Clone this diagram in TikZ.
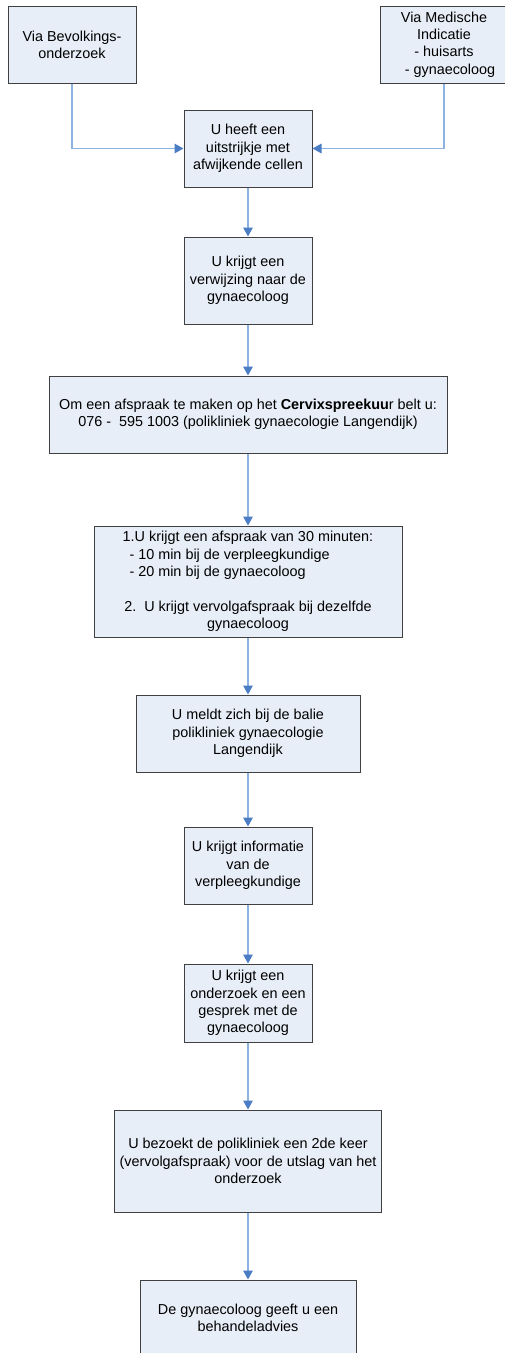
\documentclass[tikz,border=0pt]{standalone}
\usepackage{fontspec}
\setmainfont{Liberation Sans}
\usetikzlibrary{arrows.meta}
\definecolor{boxfill}{RGB}{232,238,247}
\definecolor{boxline}{RGB}{64,64,64}
\definecolor{lineblue}{RGB}{140,178,225}
\definecolor{headblue}{RGB}{74,125,196}
\tikzset{
  flowbox/.style={draw=boxline, fill=boxfill, line width=1pt, inner sep=0pt,
    align=center, font=\fontsize{14.4}{17.3}\selectfont, text=black},
  flowarrow/.style={draw=lineblue, line width=1.6pt,
    -{Triangle[length=9pt,width=9.5pt,color=headblue]}}
}
\begin{document}
\begin{tikzpicture}[x=1pt,y=-1pt]
\useasboundingbox (0,0) rectangle (505,1353);
\clip (0,0) rectangle (505,1353);
\fill[white] (0,0) rectangle (505,1353);

\node[flowbox, minimum width=128pt, minimum height=77pt] (b1) at (72,44.5)
  {Via Bevolkings-\\onderzoek};
\node[flowbox, minimum width=128pt, minimum height=77pt] (b2) at (444,44.5)
  {Via Medische\\Indicatie\\- huisarts\\\hspace*{12pt}- gynaecoloog};
\node[flowbox, minimum width=128pt, minimum height=77pt] (b3) at (248,148.5)
  {U heeft een\\uitstrijkje met\\afwijkende cellen};
\node[flowbox, minimum width=128pt, minimum height=87pt] (b4) at (248,280.5)
  {U krijgt een\\verwijzing naar de\\gynaecoloog};
\node[flowbox, minimum width=398pt, minimum height=77pt] (b5) at (248,414.5)
  {Om een afspraak te maken op het \textbf{Cervixspreekuu}r belt u:\\076 -\ \ 595 1003 (polikliniek gynaecologie Langendijk)};
\node[flowbox, minimum width=308pt, minimum height=111pt] (b6) at (248,581.5)
  {1.U krijgt een afspraak van 30 minuten:\\
   \makebox[251pt][l]{\hspace*{7pt}- 10 min bij de verpleegkundige}\\
   \makebox[251pt][l]{\hspace*{7pt}- 20 min bij de gynaecoloog}\\[17.3pt]
   2.\ \ U krijgt vervolgafspraak bij dezelfde\\gynaecoloog};
\node[flowbox, minimum width=224pt, minimum height=77pt] (b7) at (248,733.5)
  {U meldt zich bij de balie\\polikliniek gynaecologie\\Langendijk};
\node[flowbox, minimum width=128pt, minimum height=77pt] (b8) at (248,865.5)
  {U krijgt informatie\\van de\\verpleegkundige};
\node[flowbox, minimum width=128pt, minimum height=78pt] (b9) at (248,1003)
  {U krijgt een\\onderzoek en een\\gesprek met de\\gynaecoloog};
\node[flowbox, minimum width=267pt, minimum height=102pt] (b10) at (248,1161)
  {U bezoekt de polikliniek een 2de keer\\(vervolgafspraak) voor de utslag van het\\onderzoek};
\node[flowbox, minimum width=216pt, minimum height=76pt] (b11) at (248,1318)
  {De gynaecoloog geeft u een\\behandeladvies};

\draw[flowarrow] (b1.south) |- (b3.west);
\draw[flowarrow] (b2.south) |- (b3.east);
\draw[flowarrow] (b3) -- (b4);
\draw[flowarrow] (b4) -- (b5);
\draw[flowarrow] (b5) -- (b6);
\draw[flowarrow] (b6) -- (b7);
\draw[flowarrow] (b7) -- (b8);
\draw[flowarrow] (b8) -- (b9);
\draw[flowarrow] (b9) -- (b10);
\draw[flowarrow] (b10) -- (b11);
\end{tikzpicture}
\end{document}
